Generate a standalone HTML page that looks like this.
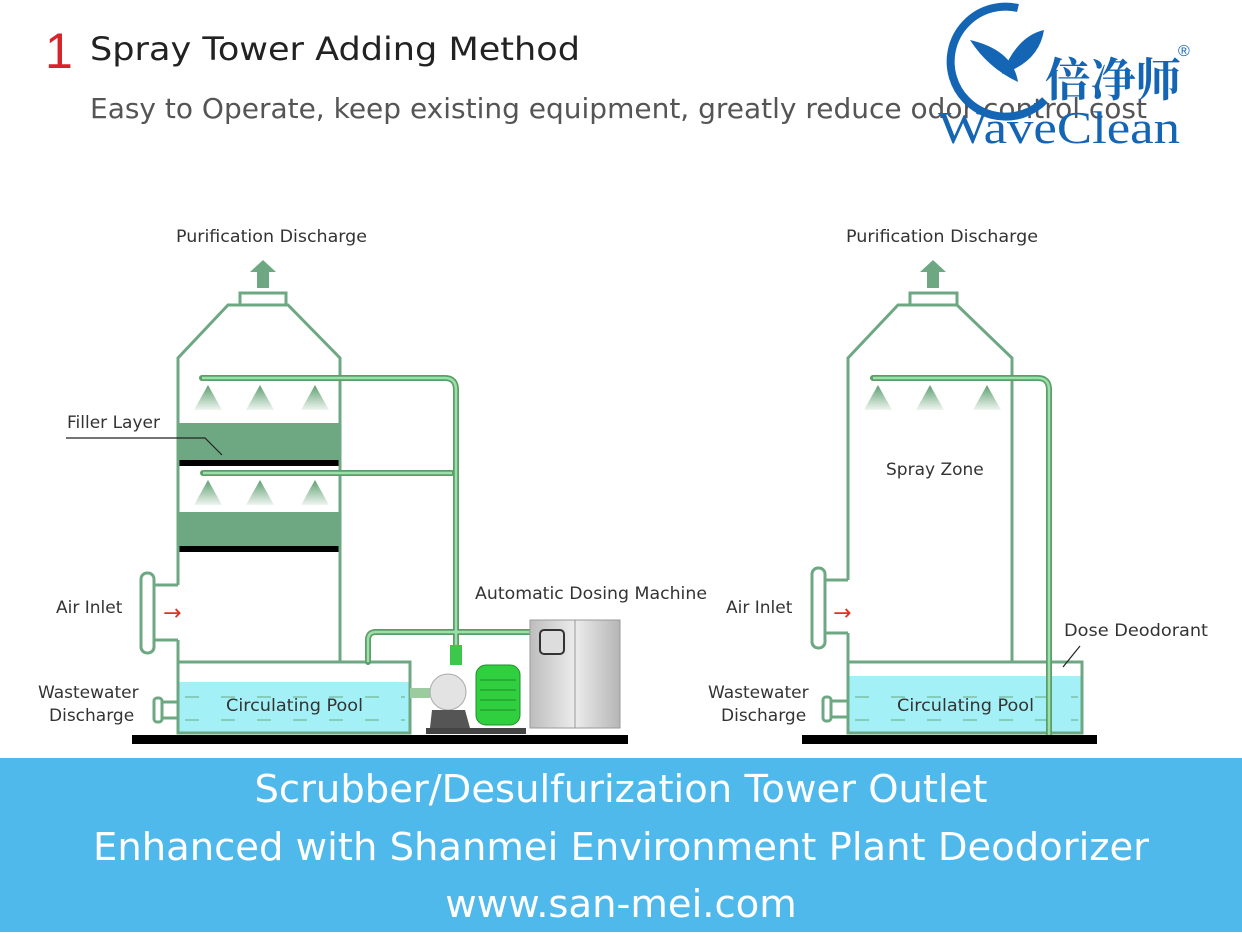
<!DOCTYPE html>
<html><head><meta charset="utf-8"><style>
html,body{margin:0;padding:0;background:#fff;}
body{width:1242px;height:932px;overflow:hidden;position:relative;font-family:"Liberation Sans",sans-serif;}
svg{position:absolute;left:0;top:0;}
.band{position:absolute;left:0;top:758px;width:1242px;height:174px;background:#4fb9ec;color:#fff;text-align:center;font-family:"DejaVu Sans","Liberation Sans",sans-serif;font-size:38.5px;line-height:57.5px;padding-top:3px;box-sizing:border-box;}
</style></head><body>
<svg width="1242" height="758" viewBox="0 0 1242 758">
<defs>
<linearGradient id="noz" x1="0" y1="0" x2="0" y2="1"><stop offset="0" stop-color="#5d9e6f"/><stop offset="1" stop-color="#5d9e6f" stop-opacity="0.1"/></linearGradient>
<linearGradient id="cab" x1="0" y1="0" x2="1" y2="0"><stop offset="0" stop-color="#bdbdbd"/><stop offset="0.5" stop-color="#ececec"/><stop offset="1" stop-color="#b5b5b5"/></linearGradient>
</defs>
<!-- header -->
<text x="45" y="68" font-size="50" fill="#d8232a" font-family="Liberation Sans">1</text>
<text x="90" y="60" font-size="32" fill="#222" font-family="DejaVu Sans" textLength="490" lengthAdjust="spacingAndGlyphs">Spray Tower Adding Method</text>
<text x="90" y="118" font-size="28" fill="#555" font-family="DejaVu Sans" textLength="1057" lengthAdjust="spacingAndGlyphs">Easy to Operate, keep existing equipment, greatly reduce odor control cost</text>
<!-- logo -->
<g fill="none" stroke="#1565b5">
<path d="M1018 8 A55 55 0 1 0 1045 100" stroke-width="8"/>
<path d="M970 40 q18 28 48 42 q-5 -32 -48 -42z" fill="#1565b5" stroke="none"/>
<path d="M1002 74 q15 -38 42 -44 q-5 32 -42 44z" fill="#1565b5" stroke="none"/>
</g>
<text x="1045" y="96" font-size="46" font-weight="bold" fill="#1565b5" font-family="Noto Serif CJK SC,serif" textLength="136" lengthAdjust="spacingAndGlyphs">倍净师</text>
<text x="1178" y="56" font-size="16" fill="#1565b5">®</text>
<text x="938" y="143" font-size="46" fill="#1565b5" font-family="Liberation Serif,serif" textLength="242" lengthAdjust="spacingAndGlyphs">WaveClean</text>

<g font-family="DejaVu Sans,sans-serif" font-size="17" fill="#333">
<text x="176" y="242" textLength="191" lengthAdjust="spacingAndGlyphs">Purification Discharge</text>
<text x="846" y="242" textLength="192" lengthAdjust="spacingAndGlyphs">Purification Discharge</text>
<text x="67" y="428">Filler Layer</text>
<text x="56" y="613">Air Inlet</text>
<text x="726" y="613">Air Inlet</text>
<text x="38" y="698">Wastewater</text>
<text x="49" y="721">Discharge</text>
<text x="708" y="698">Wastewater</text>
<text x="721" y="721">Discharge</text>
<text x="475" y="599" textLength="232" lengthAdjust="spacingAndGlyphs">Automatic Dosing Machine</text>
<text x="1064" y="636" textLength="144" lengthAdjust="spacingAndGlyphs">Dose Deodorant</text>
<text x="886" y="475">Spray Zone</text>
</g>

<!-- LEFT TOWER -->
<rect x="178" y="682" width="232" height="51" fill="#a3f1f7"/>
<rect x="178" y="423" width="162" height="39" fill="#6ea883"/>
<rect x="178" y="512" width="162" height="36" fill="#6ea883"/>
<rect x="178" y="460" width="162" height="6" fill="#000"/>
<rect x="178" y="546" width="162" height="6" fill="#000"/>
<g fill="none" stroke="#6ea883" stroke-width="3">
<path d="M178 585 V358 L228 305 H288 L340 358 V662"/>
<rect x="240" y="293" width="46" height="12"/>
<path d="M178 640 V662 M153 585 H178 M153 640 H178"/>
<rect x="141" y="573" width="13" height="80" rx="6"/>
<rect x="178" y="662" width="232" height="71"/>
<rect x="154" y="698" width="8" height="24" rx="3"/>
<path d="M162 702 H178 M162 718 H178"/>
</g>
<path d="M257 288 V272 H250 L263 260 L276 272 H269 V288Z" fill="#6ea883"/>
<text x="163" y="620" font-size="22" fill="#d32" font-family="DejaVu Sans">→</text>
<path d="M66 438 H205 L222 455" stroke="#222" stroke-width="1.2" fill="none"/>
<g stroke="#6aa87c" stroke-dasharray="14 22" stroke-width="1"><path d="M185 697 H405 M185 720 H405"/></g>
<!-- pipes -->
<g fill="none" stroke="#5c9e6a" stroke-width="6" stroke-linecap="round">
<path d="M202 378 H445 Q456 378 456 390 V662"/>
<path d="M203 473 H452"/>
<path d="M368 662 V640 Q368 632 376 632 H530"/>
</g>
<g fill="none" stroke="#9be0a8" stroke-width="2.5">
<path d="M202 378 H445 Q456 378 456 390 V662"/>
<path d="M203 473 H452"/>
<path d="M368 662 V640 Q368 632 376 632 H530"/>
</g>
<g fill="url(#noz)">
<path d="M208 385 L194 410 H222Z M260 385 L246 410 H274Z M315 385 L301 410 H329Z"/>
<path d="M208 480 L194 505 H222Z M260 480 L246 505 H274Z M315 480 L301 505 H329Z"/>
</g>
<text x="226" y="711" font-size="17" fill="#333" font-family="DejaVu Sans" textLength="137" lengthAdjust="spacingAndGlyphs">Circulating Pool</text>
<!-- pump -->
<rect x="450" y="645" width="12" height="20" fill="#3cc84a"/>
<rect x="410" y="688" width="20" height="10" fill="#9ccb9f"/>
<circle cx="448" cy="692" r="18" fill="#e3e3e3" stroke="#aaa"/>
<path d="M432 710 H465 L470 728 H430Z" fill="#555"/>
<rect x="426" y="728" width="100" height="6" fill="#444"/>
<rect x="476" y="665" width="44" height="60" rx="10" fill="#2fcf3f" stroke="#1d8f28"/>
<g stroke="#1d8f28"><path d="M480 680H516M480 690H516M480 700H516M480 710H516"/></g>
<rect x="530" y="620" width="90" height="108" fill="url(#cab)" stroke="#999"/>
<line x1="575" y1="620" x2="575" y2="728" stroke="#999"/>
<rect x="540" y="630" width="24" height="24" rx="4" fill="#ddd" stroke="#333" stroke-width="2"/>
<rect x="132" y="735" width="496" height="9" fill="#000"/>

<!-- RIGHT TOWER -->
<rect x="848" y="676" width="234" height="57" fill="#a3f1f7"/>
<g fill="none" stroke="#6ea883" stroke-width="3">
<path d="M848 580 V358 L898 305 H957 L1012 358 V662"/>
<rect x="910" y="293" width="47" height="12"/>
<path d="M848 633 V662 M825 580 H848 M825 633 H848"/>
<rect x="812" y="568" width="13" height="80" rx="6"/>
<rect x="848" y="662" width="234" height="71"/>
<rect x="823" y="697" width="8" height="24" rx="3"/>
<path d="M831 701 H848 M831 717 H848"/>
</g>
<path d="M927 288 V272 H920 L933 260 L946 272 H939 V288Z" fill="#6ea883"/>
<text x="833" y="620" font-size="22" fill="#d32" font-family="DejaVu Sans">→</text>
<path d="M1063 667 L1080 646" stroke="#222" stroke-width="1.2"/>
<g stroke="#6aa87c" stroke-dasharray="14 22" stroke-width="1"><path d="M855 697 H1078 M855 720 H1078"/></g>
<g fill="none" stroke="#5c9e6a" stroke-width="6" stroke-linecap="round"><path d="M873 378 H1038 Q1049 378 1049 390 V735"/></g>
<g fill="none" stroke="#9be0a8" stroke-width="2.5"><path d="M873 378 H1038 Q1049 378 1049 390 V735"/></g>
<g fill="url(#noz)"><path d="M878 385 L864 410 H892Z M930 385 L916 410 H944Z M987 385 L973 410 H1001Z"/></g>
<text x="897" y="711" font-size="17" fill="#333" font-family="DejaVu Sans" textLength="137" lengthAdjust="spacingAndGlyphs">Circulating Pool</text>
<rect x="802" y="735" width="295" height="9" fill="#000"/>
</svg>
<div class="band">Scrubber/Desulfurization Tower Outlet<br>Enhanced with Shanmei Environment Plant Deodorizer<br>www.san-mei.com</div>
</body></html>
